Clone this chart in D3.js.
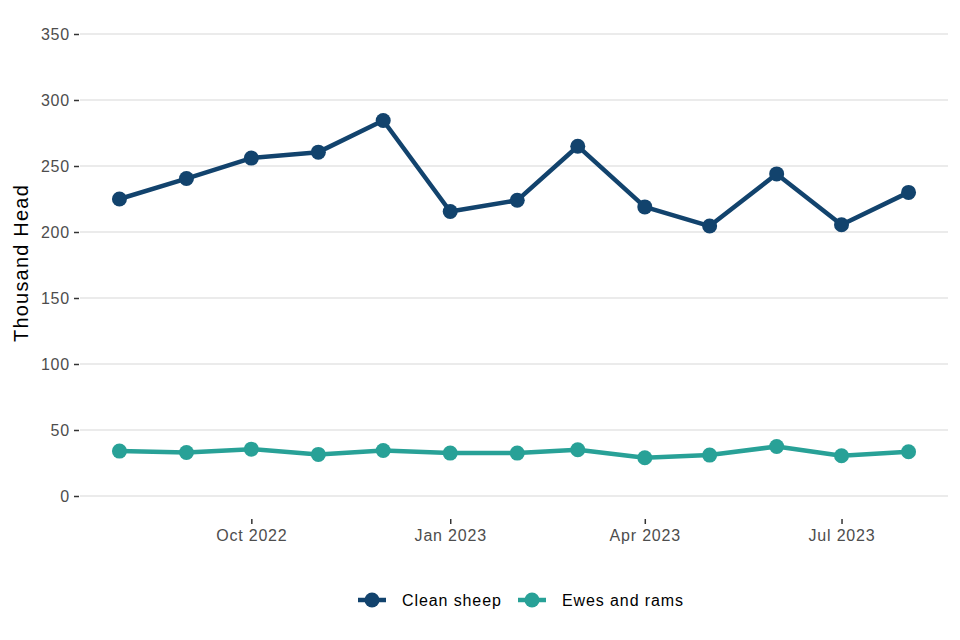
<!DOCTYPE html>
<html>
<head>
<meta charset="utf-8">
<script src="https://cdn.jsdelivr.net/npm/d3@7"></script>
<style>
  body { margin: 0; background: #fff; }
  svg { font-family: "Liberation Sans", Arial, sans-serif; }
</style>
</head>
<body>
<svg id="chart" width="960" height="640"></svg>
<script>
// monthly slaughter, thousand head
var months = ['2022-08-01','2022-09-01','2022-10-01','2022-11-01','2022-12-01','2023-01-01','2023-02-01',
              '2023-03-01','2023-04-01','2023-05-01','2023-06-01','2023-07-01','2023-08-01'];
var cleanSheep = [225, 240.5, 256, 260.5, 284.5, 215.5, 224, 265, 219, 204.5, 244, 205.5, 230];
var ewesRams = [34, 33, 35.5, 31.5, 34.5, 32.5, 32.5, 35, 29, 31, 37.5, 30.5, 33.5];
var seriesNames = ['Clean sheep', 'Ewes and rams'];
var yTicks = [0, 50, 100, 150, 200, 250, 300, 350];
var xTicks = ['2022-10-01', '2023-01-01', '2023-04-01', '2023-07-01'];

var colors = ['#12436D', '#28A197'];
var parse = d3.timeParse('%Y-%m-%d');
var dates = months.map(parse);

var svg = d3.select('#chart');
var left = 80, right = 948;

// ggplot style 5% expansion on the date range
var span = dates[dates.length - 1] - dates[0];
var x = d3.scaleTime()
    .domain([new Date(+dates[0] - span * 0.05), new Date(+dates[dates.length - 1] + span * 0.05)])
    .range([left, right]);
var y = d3.scaleLinear().domain([0, 350]).range([496, 34]);

// gridlines
svg.append('g').selectAll('line')
    .data(yTicks).enter().append('line')
    .attr('x1', left).attr('x2', right)
    .attr('y1', function(d) { return y(d); }).attr('y2', function(d) { return y(d); })
    .style('stroke', '#ebebeb').style('stroke-width', 2);

// y axis
var yAxis = svg.append('g')
    .attr('transform', 'translate(' + (left - 1) + ',0)')
    .call(d3.axisLeft(y).tickValues(yTicks).tickSize(5).tickPadding(4));
yAxis.select('.domain').remove();
yAxis.selectAll('line').style('stroke', '#333').style('stroke-width', 1.5);
yAxis.selectAll('text').style('font-size', '16px').style('letter-spacing', '0.8px').style('fill', '#4d4d4d');

// x axis
var xAxis = svg.append('g')
    .attr('transform', 'translate(0,' + 519 + ')')
    .call(d3.axisBottom(x).tickValues(xTicks.map(parse)).tickFormat(d3.timeFormat('%b %Y')).tickSize(5).tickPadding(6));
xAxis.select('.domain').remove();
xAxis.selectAll('line').style('stroke', '#333').style('stroke-width', 1.5);
xAxis.selectAll('text').style('font-size', '16px').style('letter-spacing', '0.8px').style('fill', '#4d4d4d');

svg.append('text')
    .attr('transform', 'translate(28,263) rotate(-90)')
    .attr('text-anchor', 'middle')
    .style('font-size', '20px')
    .style('letter-spacing', '1.2px')
    .style('fill', '#000')
    .text('Thousand Head');

var line = d3.line()
    .x(function(d, i) { return x(dates[i]); })
    .y(function(d) { return y(d); });

[cleanSheep, ewesRams].forEach(function(vals, s) {
    var g = svg.append('g');
    g.append('path')
        .datum(vals)
        .attr('d', line)
        .style('fill', 'none')
        .style('stroke', colors[s])
        .style('stroke-width', 4.5)
        .style('stroke-linejoin', 'round');
    g.selectAll('circle')
        .data(vals).enter().append('circle')
        .attr('cx', function(d, i) { return x(dates[i]); })
        .attr('cy', function(d) { return y(d); })
        .attr('r', 7.5)
        .style('fill', colors[s]);
});

// legend
var legendX = [372, 532];
var legend = svg.append('g');
seriesNames.forEach(function(name, i) {
    var lg = legend.append('g').attr('transform', 'translate(' + legendX[i] + ',600)');
    lg.append('line').attr('x1', -14).attr('x2', 14)
        .style('stroke', colors[i]).style('stroke-width', 4.5);
    lg.append('circle').attr('r', 7.5).style('fill', colors[i]);
    lg.append('text').attr('x', 30).attr('dy', '0.35em')
        .style('font-size', '16px').style('letter-spacing', '0.9px').style('fill', '#000')
        .text(name);
});
</script>
</body>
</html>
